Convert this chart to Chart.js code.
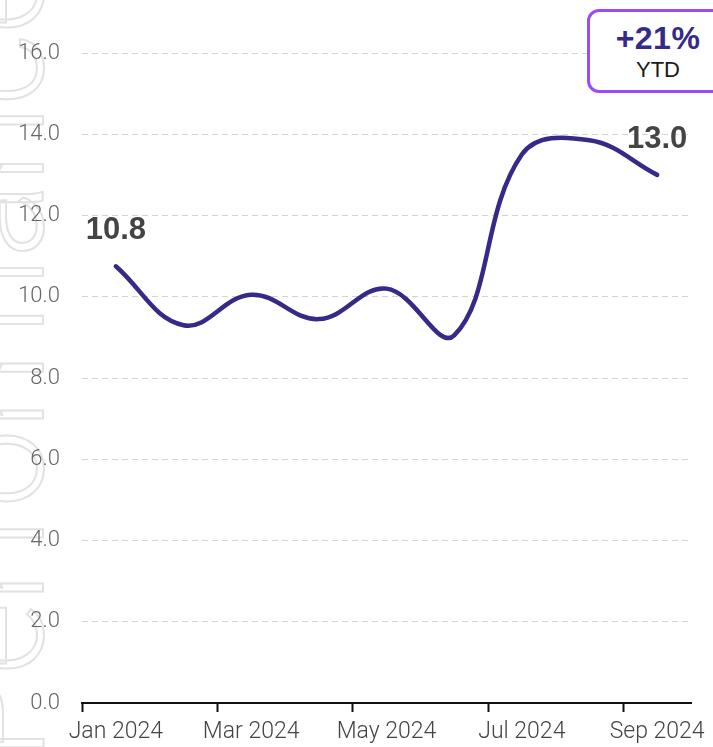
<!DOCTYPE html>
<html>
<head>
<meta charset="utf-8">
<script src="https://cdn.jsdelivr.net/npm/chart.js@4"></script>
<style>
  html, body { margin: 0; padding: 0; background: #ffffff; }
  #wrap { position: relative; width: 713px; height: 747px; overflow: hidden; }
  #c { position: absolute; left: 0; top: 0; }
  #kpi {
    position: absolute; left: 587px; top: 9px; width: 142px; height: 84px;
    box-sizing: border-box; border: 3px solid #9b4cf6; border-radius: 12px;
    background: #ffffff; text-align: center; font-family: "Liberation Sans", Arial, sans-serif;
  }
  #kpi .v { font-weight: bold; font-size: 32px; color: #352a87; line-height: 34px; margin-top: 9px; letter-spacing: 0.5px; }
  #kpi .l { font-size: 22px; color: #1a1a1a; line-height: 26px; margin-top: 2px; }
</style>
</head>
<body>
<div id="wrap">
  <canvas id="c" width="713" height="747"></canvas>
  <div id="kpi"><div class="v" id="kpiVal"></div><div class="l" id="kpiLbl"></div></div>
</div>
<script>
// ---- data ----
const categories = ['Jan 2024', 'Feb 2024', 'Mar 2024', 'Apr 2024', 'May 2024', 'Jun 2024', 'Jul 2024', 'Aug 2024', 'Sep 2024'];
const values = [10.75, 9.3, 10.05, 9.45, 10.2, 9.05, 13.5, 13.85, 13.0];
const yTicks = [0, 2, 4, 6, 8, 10, 12, 14, 16];
const kpiLabel = 'YTD';
const watermarkText = 'Performance';

const ytd = Math.round((values[values.length - 1] / values[0] - 1) * 100);
document.getElementById('kpiVal').textContent = (ytd >= 0 ? '+' : '') + ytd + '%';
document.getElementById('kpiLbl').textContent = kpiLabel;

const watermark = {
  id: 'watermark',
  beforeDraw(chart) {
    const ctx = chart.ctx;
    ctx.save();
    ctx.translate(43, 760);
    ctx.rotate(-Math.PI / 2);
    ctx.font = '300 140px Roboto';
    ctx.strokeStyle = '#e2e2e2';
    ctx.lineWidth = 2;
    ctx.strokeText(watermarkText, 0, 0);
    ctx.restore();
  }
};

const endLabels = {
  id: 'endLabels',
  afterDatasetsDraw(chart) {
    const meta = chart.getDatasetMeta(0);
    const ctx = chart.ctx;
    ctx.save();
    ctx.font = 'bold 31px "Liberation Sans", Arial, sans-serif';
    ctx.fillStyle = '#444444';
    ctx.textAlign = 'center';
    ctx.textBaseline = 'alphabetic';
    [0, values.length - 1].forEach(i => {
      const p = meta.data[i];
      ctx.fillText(values[i].toFixed(1), p.x, p.y - 27);
    });
    ctx.restore();
  }
};

new Chart(document.getElementById('c'), {
  type: 'line',
  data: {
    labels: categories,
    datasets: [{
      data: values,
      borderColor: '#352a87',
      borderWidth: 4.5,
      borderCapStyle: 'round',
      borderJoinStyle: 'round',
      pointRadius: 0,
      tension: 0.4,
      fill: false
    }]
  },
  options: {
    responsive: false,
    animation: false,
    layout: { padding: { top: 53, right: 22, bottom: 0, left: 0 } },
    plugins: { legend: { display: false }, tooltip: { enabled: false } },
    scales: {
      x: {
        type: 'category',
        offset: true,
        grid: {
          offset: true,
          drawOnChartArea: false,
          drawTicks: true,
          tickLength: 9,
          tickWidth: 2,
          tickColor: ctx => (ctx.index % 2 === 0 ? '#111111' : 'rgba(0,0,0,0)')
        },
        border: { display: true, color: '#111111', width: 2 },
        ticks: {
          autoSkip: false,
          maxRotation: 0,
          padding: 6,
          color: '#444444',
          font: { family: 'Roboto', size: 23, weight: '300' },
          callback: (v, i) => (i % 2 === 0 ? categories[i] : '')
        },
        afterFit: s => { s.height = 44; }
      },
      y: {
        min: yTicks[0],
        max: yTicks[yTicks.length - 1],
        afterBuildTicks: s => { s.ticks = yTicks.map(v => ({ value: v })); },
        grid: {
          drawTicks: false,
          color: ctx => (ctx.tick && ctx.tick.value === 0 ? 'rgba(0,0,0,0)' : '#d4d4d4'),
          lineWidth: 1
        },
        border: { display: false, dash: [6, 4] },
        ticks: {
          padding: 22,
          color: '#666666',
          font: { family: 'Roboto', size: 22, weight: '300' },
          callback: v => Number(v).toFixed(1)
        },
        afterFit: s => { s.width = 82; }
      }
    }
  },
  plugins: [watermark, endLabels]
});
</script>
</body>
</html>
